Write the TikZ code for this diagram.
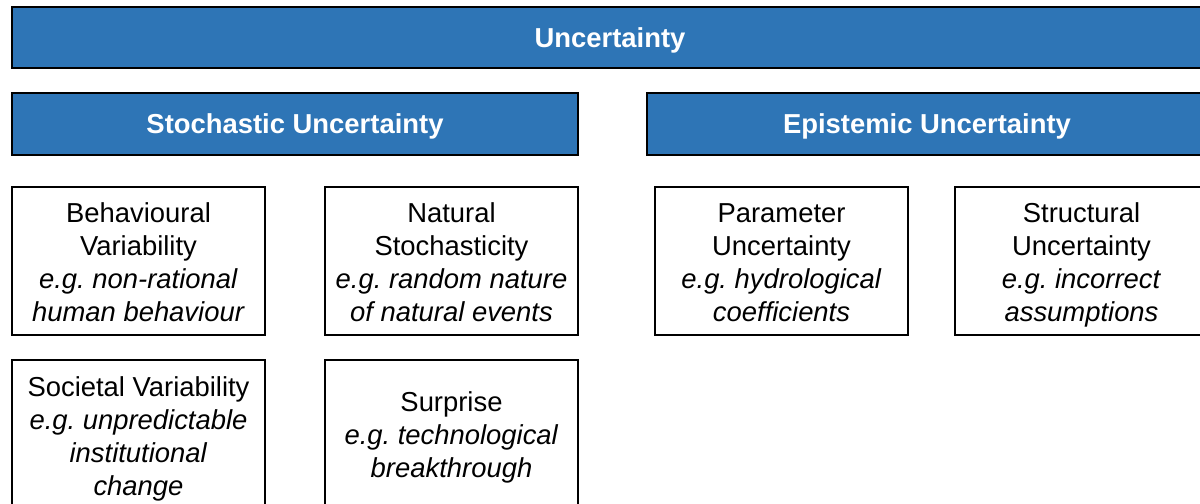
\documentclass[tikz,border=0pt]{standalone}
\usepackage{fontspec}
\setmainfont{Liberation Sans}
\usepackage{xcolor}
\usepackage{tikz}
\usetikzlibrary{positioning}
\frenchspacing

\definecolor{bandblue}{RGB}{46,117,182}

\begin{document}
\begin{tikzpicture}[
    band/.style={draw=black, line width=0.9pt, fill=bandblue, text=white,
      font=\fontsize{15.6}{18.7}\selectfont\bfseries, inner sep=0pt,
      text height=14pt, text depth=2.8pt, minimum height=1.23cm},
    leaf/.style={draw=black, line width=0.9pt, fill=white, align=center,
      font=\fontsize{15.6}{18.7}\selectfont, inner sep=0pt,
      text height=73.4pt, text depth=5pt,
      minimum width=5.06cm, minimum height=2.96cm}]
    \useasboundingbox (0,0) rectangle (24,-10.08);
    \clip (0,0) rectangle (24,-10.08);
    % Top bar
    \node[band, minimum width=23.92cm] (unc) at (12.2,-0.75) {Uncertainty};
    % Two kinds
    \node[band, minimum width=11.32cm] (stoch) at (5.9,-2.48) {Stochastic Uncertainty};
    \node[band, minimum width=11.2cm] (epist) at (18.54,-2.48) {Epistemic Uncertainty};
    % Stochastic sources
    \node[leaf] (behav) at (2.77,-5.22)
      {Behavioural\\Variability\\\textit{e.g. non-rational}\\\textit{human behaviour}};
    \node[leaf] (nat) at (9.03,-5.22)
      {Natural\\Stochasticity\\\textit{e.g. random nature}\\\textit{of natural events}};
    \node[leaf, minimum height=3cm] (soc) at (2.77,-8.7)
      {Societal Variability\\\textit{e.g. unpredictable}\\\textit{institutional}\\\textit{change}};
    \node[leaf, minimum height=3cm, text height=53.4pt, text depth=4.8pt] (surp) at (9.03,-8.7)
      {Surprise\\\textit{e.g. technological}\\\textit{breakthrough}};
    % Epistemic sources
    \node[leaf] (param) at (15.63,-5.22)
      {Parameter\\Uncertainty\\\textit{e.g. hydrological}\\\textit{coefficients}};
    \node[leaf] (struct) at (21.63,-5.22)
      {Structural\\Uncertainty\\\textit{e.g. incorrect}\\\textit{assumptions}};
\end{tikzpicture}
\end{document}
